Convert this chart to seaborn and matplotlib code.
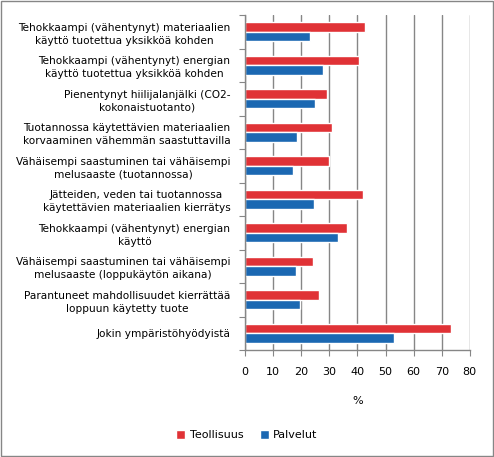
import pandas as pd
import matplotlib
matplotlib.use("Agg")
import matplotlib.pyplot as plt
import seaborn as sns

categories = [
    "Tehokkaampi (vähentynyt) materiaalien\nkäyttö tuotettua yksikköä kohden",
    "Tehokkaampi (vähentynyt) energian\nkäyttö tuotettua yksikköä kohden",
    "Pienentynyt hiilijalanjälki (CO2-\nkokonaistuotanto)",
    "Tuotannossa käytettävien materiaalien\nkorvaaminen vähemmän saastuttavilla",
    "Vähäisempi saastuminen tai vähäisempi\nmelusaaste (tuotannossa)",
    "Jätteiden, veden tai tuotannossa\nkäytettävien materiaalien kierrätys",
    "Tehokkaampi (vähentynyt) energian\nkäyttö",
    "Vähäisempi saastuminen tai vähäisempi\nmelusaaste (loppukäytön aikana)",
    "Parantuneet mahdollisuudet kierrättää\nloppuun käytetty tuote",
    "Jokin ympäristöhyödyistä",
]
teollisuus = [42.7, 40.6, 29.2, 31.0, 29.9, 41.9, 36.3, 24.3, 26.4, 73.3]
palvelut = [23.3, 27.7, 25.0, 18.4, 17.0, 24.6, 33.1, 18.2, 19.6, 53.0]
series = ["Teollisuus", "Palvelut"]
colors = {"Teollisuus": "#E03236", "Palvelut": "#1B68B2"}

df = pd.DataFrame({
    "kategoria": categories * 2,
    "sektori": [series[0]] * len(categories) + [series[1]] * len(categories),
    "arvo": teollisuus + palvelut,
})

sns.set_style("white")
plt.rcParams["font.family"] = ["DejaVu Sans"]
plt.rcParams["text.color"] = "black"
plt.rcParams["xtick.color"] = "black"
plt.rcParams["ytick.color"] = "black"
plt.rcParams["axes.labelcolor"] = "black"

fig = plt.figure(figsize=(4.94, 4.57), dpi=100)
ax = fig.add_axes([0.496, 0.234, 0.455, 0.733])

sns.barplot(data=df, y="kategoria", x="arvo", hue="sektori", orient="h",
            palette=colors, width=0.56, saturation=1, ax=ax, legend=True)

ax.set_xlim(0, 80)
ax.set_xticks(range(0, 81, 10))
ax.set_ylim(len(categories) - 0.5, -0.5)
ax.grid(axis="x", color="#868686", linewidth=1)
ax.set_axisbelow(True)
for s in ["top", "right"]:
    ax.spines[s].set_visible(False)
for s in ["left", "bottom"]:
    ax.spines[s].set_color("#868686")
    ax.spines[s].set_linewidth(1)

# y ticks at category boundaries, labels centered on bars
ax.set_yticks([i + 0.5 for i in range(-1, len(categories))], minor=False)
ax.set_yticklabels([])
ax.set_yticks(range(len(categories)), minor=True)
ax.set_yticklabels(categories, minor=True, multialignment="center", fontsize=7.6,
                   linespacing=1.35)
ax.tick_params(axis="y", which="major", length=4, color="#868686", left=True)
ax.tick_params(axis="y", which="minor", length=0, pad=10.5)
ax.tick_params(axis="x", length=4, color="#868686", labelcolor="black", bottom=True,
               labelsize=8, pad=8)

ax.set_ylabel("")
ax.set_xlabel("%", fontsize=8, labelpad=14)

ax.legend_.remove()
h, l = ax.get_legend_handles_labels()
fig.legend(h, l, loc="center", bbox_to_anchor=(0.5, 0.048), ncol=2, frameon=False,
           fontsize=8, handlelength=0.8, handleheight=0.8, columnspacing=1.5,
           handletextpad=0.4)

fig.patches.append(plt.Rectangle((0.002, 0.002), 0.996, 0.996, transform=fig.transFigure,
                                 fill=False, edgecolor="#868686", linewidth=1))

fig.savefig("out.png", dpi=100)
